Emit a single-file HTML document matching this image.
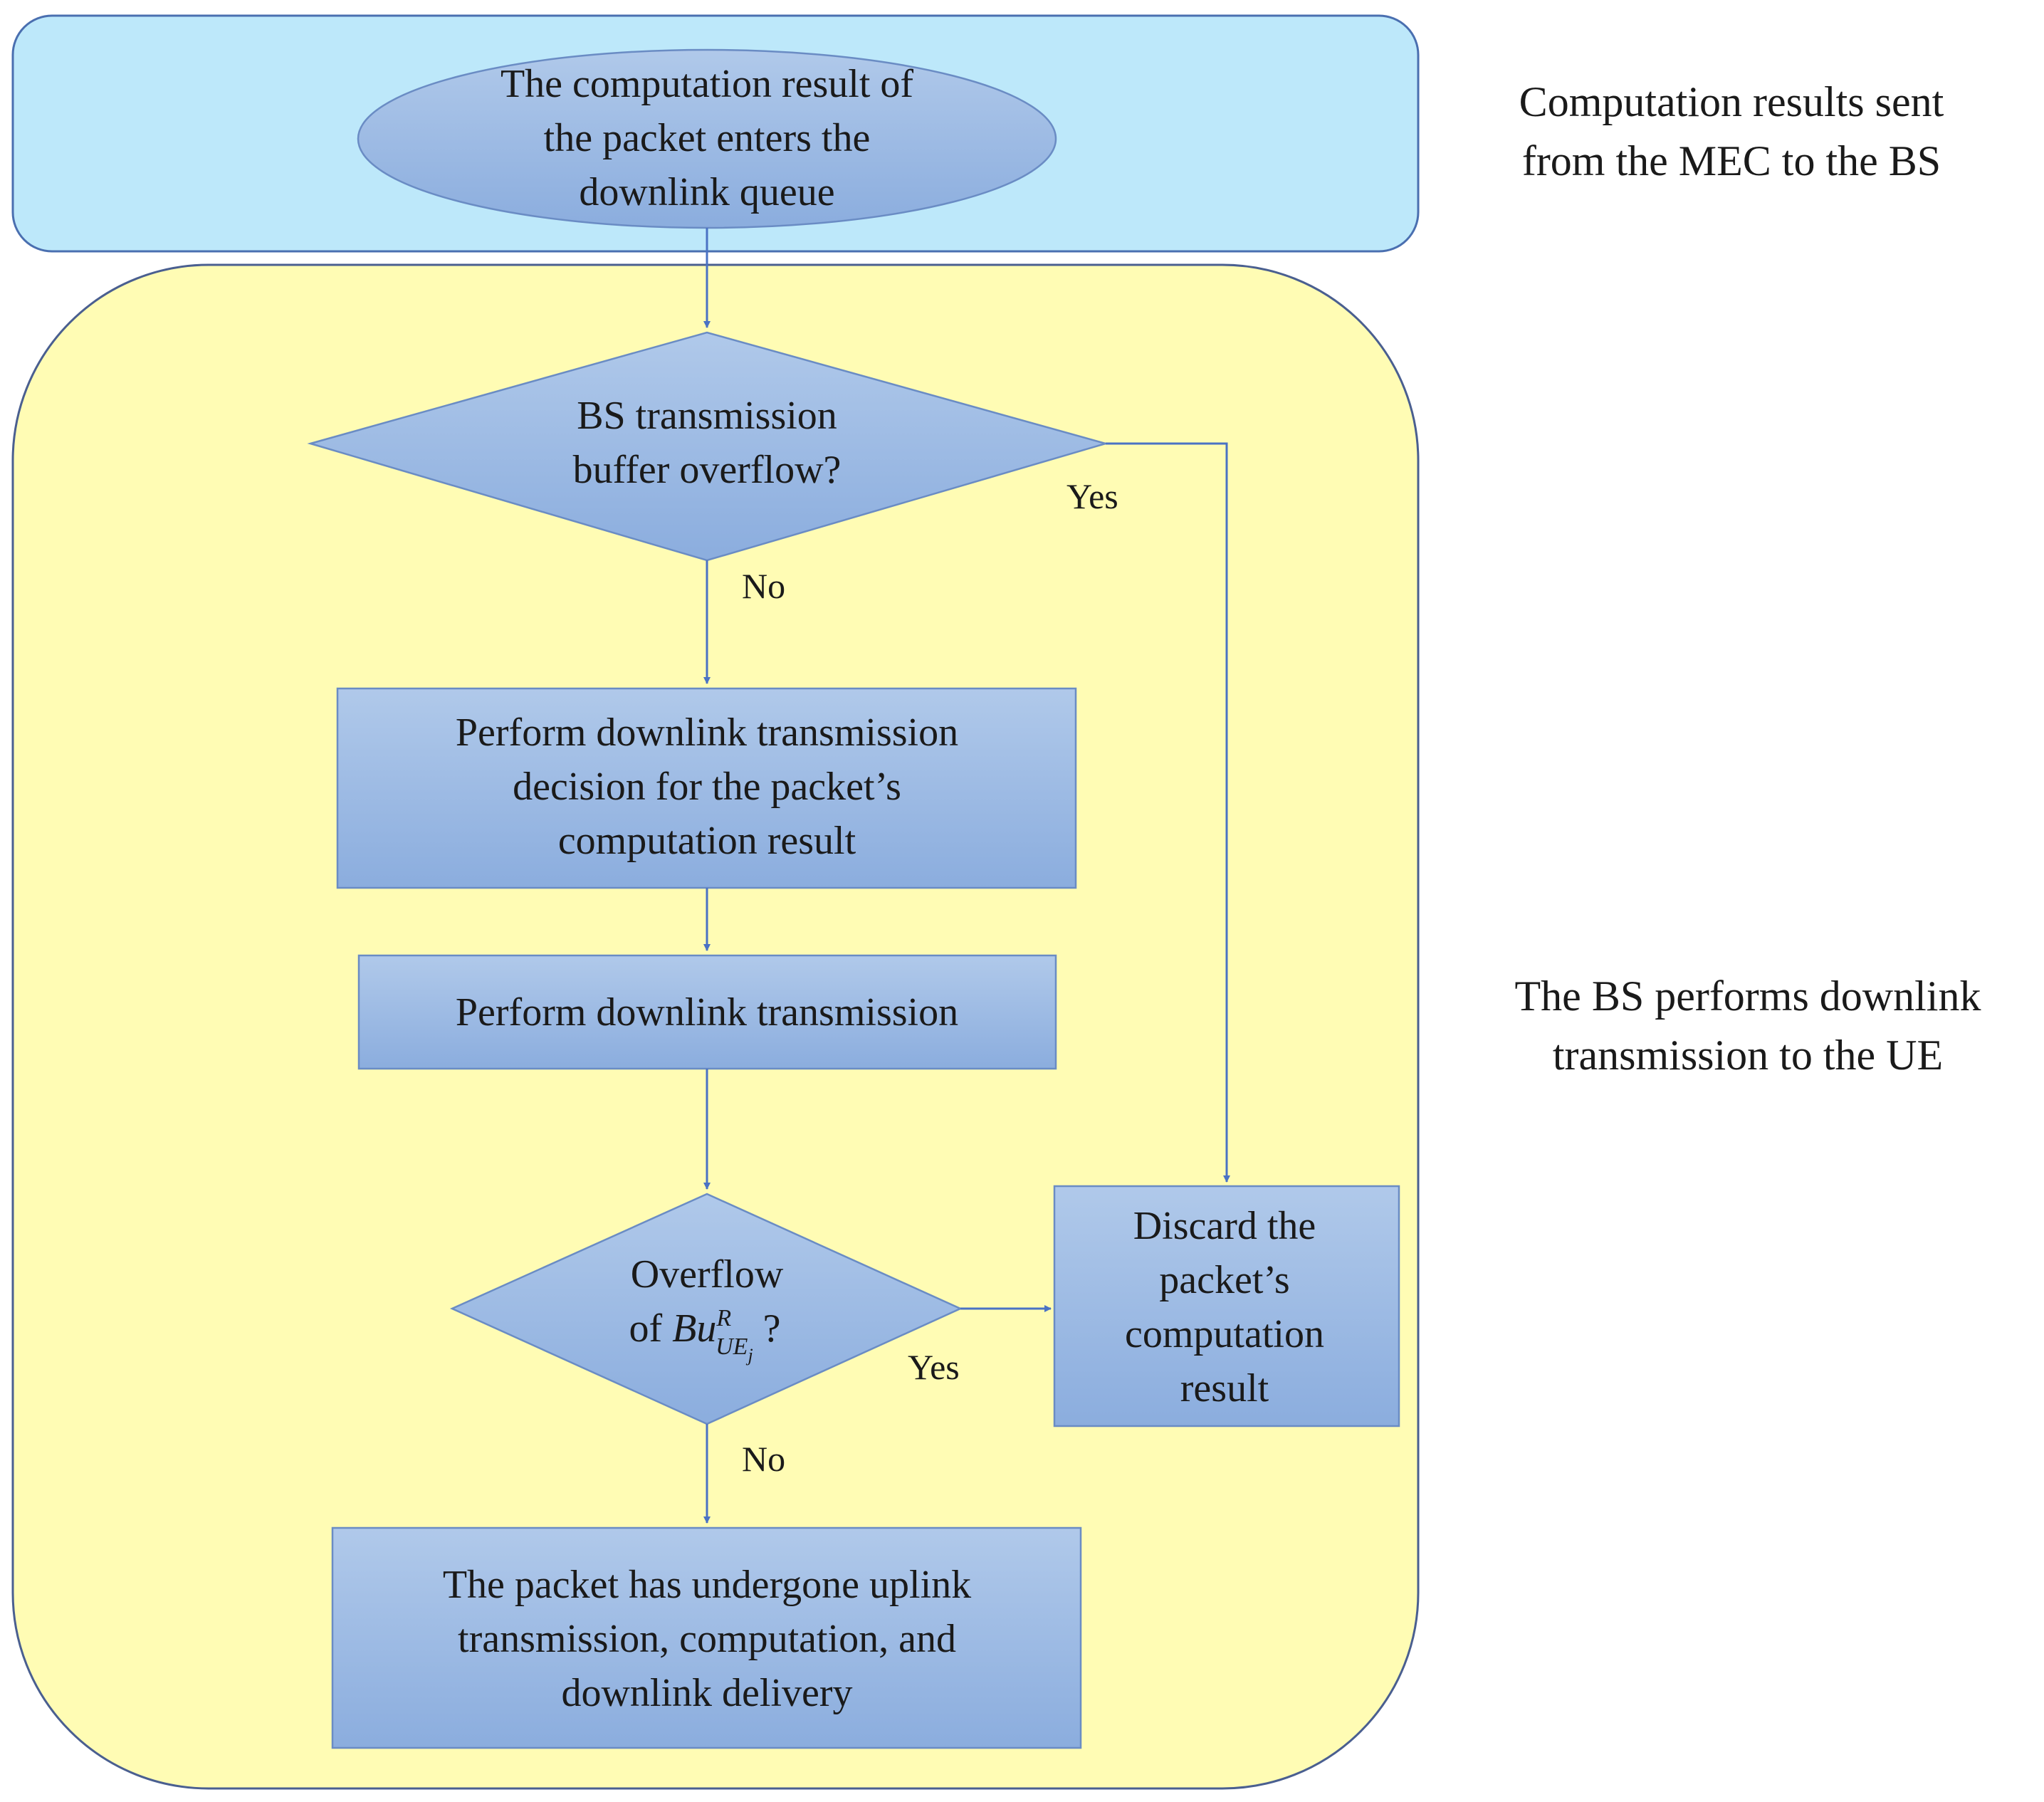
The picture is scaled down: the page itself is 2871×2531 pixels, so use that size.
<!DOCTYPE html>
<html><head><meta charset="utf-8"><style>
html,body{margin:0;padding:0;background:#fff}
svg{display:block}
text{font-family:"Liberation Serif",serif;fill:#1a1a1a}
</style></head><body>
<svg width="2871" height="2531" viewBox="0 0 2871 2531" xmlns="http://www.w3.org/2000/svg">
<defs>
<linearGradient id="g" x1="0" y1="0" x2="0" y2="1">
<stop offset="0" stop-color="#b0c9ea"/><stop offset="1" stop-color="#8badde"/>
</linearGradient>
<marker id="a" markerWidth="10" markerHeight="10" refX="9" refY="5" orient="auto" markerUnits="userSpaceOnUse" viewBox="0 0 10 10">
<path d="M0,0 L10,5 L0,10 z" fill="#4a72c4"/>
</marker>
</defs>
<style>.t{font-size:56px;text-anchor:middle}.s{font-size:60px;text-anchor:middle}.l{font-size:50px}.c{stroke:#4a72c4;stroke-width:3;fill:none}.b{fill:url(#g);stroke:#6a8cc4;stroke-width:2.5}</style>
<rect x="18" y="22" width="1974" height="331" rx="55" fill="#bde8fa" stroke="#4a6fb0" stroke-width="3"/>
<rect x="18" y="372" width="1974" height="2140" rx="275" fill="#fffcb4" stroke="#4a5f90" stroke-width="3"/>
<ellipse cx="993" cy="195" rx="490" ry="125" class="b"/>
<text class="t" x="993" y="136">The computation result of</text>
<text class="t" x="993" y="212">the packet enters the</text>
<text class="t" x="993" y="288">downlink  queue</text>
<path class="c" d="M993 320 V460" marker-end="url(#a)"/>
<polygon class="b" points="436,623 993,467 1553,623 993,787"/>
<text class="t" x="993" y="602">BS transmission</text>
<text class="t" x="993" y="678">buffer overflow?</text>
<text class="l" x="1498" y="714">Yes</text>
<text class="l" x="1042" y="840">No</text>
<path class="c" d="M993 787 V960" marker-end="url(#a)"/>
<path class="c" d="M1553 623 H1723 V1660" marker-end="url(#a)"/>
<rect x="474" y="967" width="1037" height="280" class="b"/>
<text class="t" x="993" y="1047">Perform  downlink  transmission</text>
<text class="t" x="993" y="1123">decision for the packet’s</text>
<text class="t" x="993" y="1199">computation result</text>
<path class="c" d="M993 1247 V1335" marker-end="url(#a)"/>
<rect x="504" y="1342" width="979" height="159" class="b"/>
<text class="t" x="993" y="1440">Perform  downlink  transmission</text>
<path class="c" d="M993 1501 V1670" marker-end="url(#a)"/>
<polygon class="b" points="635,1838 993,1677 1349,1838 993,2000"/>
<text class="t" x="993" y="1808">Overflow</text>
<text class="t" x="990" y="1884">of <tspan font-style="italic">Bu</tspan><tspan font-size="34" dy="-22" font-style="italic">R</tspan><tspan font-size="34" dx="-22" dy="40" font-style="italic">UE</tspan><tspan font-size="26" dy="10" font-style="italic">j</tspan><tspan dy="-28"> ?</tspan></text>
<text class="l" x="1275" y="1937">Yes</text>
<text class="l" x="1042" y="2066">No</text>
<path class="c" d="M1349 1838 H1476" marker-end="url(#a)"/>
<rect x="1481" y="1666" width="484" height="337" class="b"/>
<text class="t" x="1720" y="1740">Discard the</text>
<text class="t" x="1720" y="1816">packet’s</text>
<text class="t" x="1720" y="1892">computation</text>
<text class="t" x="1720" y="1968">result</text>
<path class="c" d="M993 2000 V2139" marker-end="url(#a)"/>
<rect x="467" y="2146" width="1051" height="309" class="b"/>
<text class="t" x="993" y="2244">The packet has undergone  uplink</text>
<text class="t" x="993" y="2320">transmission, computation,  and</text>
<text class="t" x="993" y="2396">downlink  delivery</text>
<text class="s" x="2432" y="163">Computation  results  sent</text>
<text class="s" x="2432" y="246">from the MEC to the BS</text>
<text class="s" x="2455" y="1419">The BS performs downlink</text>
<text class="s" x="2455" y="1502">transmission to the UE</text>
</svg>
</body></html>
